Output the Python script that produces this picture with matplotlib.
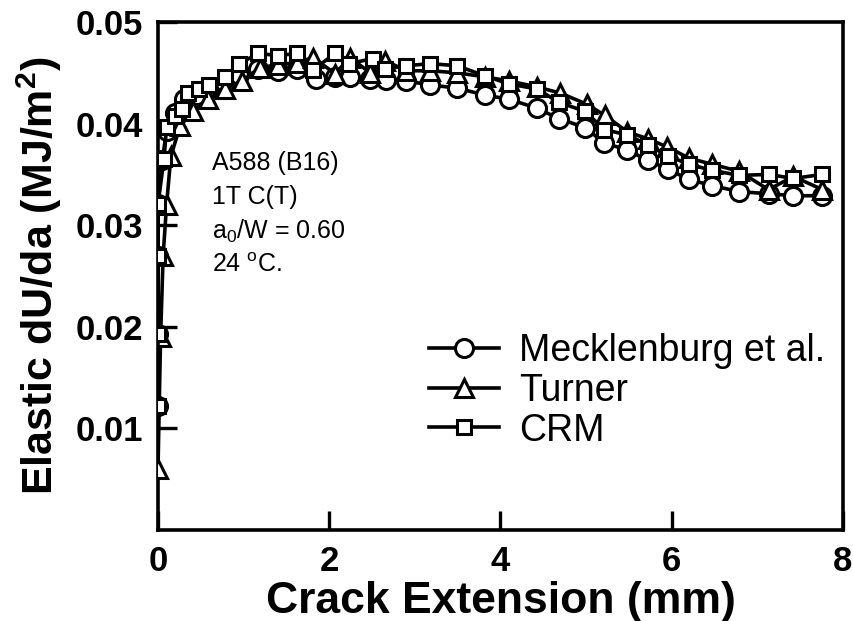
import matplotlib
matplotlib.use("Agg")
import matplotlib.pyplot as plt

plt.rcParams['font.family'] = ['Liberation Sans', 'DejaVu Sans']
plt.rcParams['mathtext.fontset'] = 'custom'
plt.rcParams['mathtext.rm'] = 'Liberation Sans'
plt.rcParams['mathtext.it'] = 'Liberation Sans:italic'
plt.rcParams['mathtext.bf'] = 'Liberation Sans:bold'

# ---- data ----
meck_x = [0, 0, 0, 0, 0.05, 0.10, 0.20, 0.30, 0.45, 0.60, 0.78, 0.95, 1.17, 1.40, 1.62,
          1.85, 2.07, 2.24, 2.48, 2.66, 2.90, 3.18, 3.49, 3.82, 4.10, 4.43, 4.68, 4.99,
          5.21, 5.48, 5.72, 5.96, 6.20, 6.47, 6.79, 7.13, 7.42, 7.76]
meck_y = [0.0122, 0.0193, 0.0270, 0.0321, 0.0364, 0.0393, 0.0410, 0.0424, 0.0428, 0.0434,
          0.0440, 0.0448, 0.0454, 0.0452, 0.0454, 0.0444, 0.0446, 0.0446, 0.0444, 0.0443,
          0.0442, 0.0438, 0.0435, 0.0428, 0.0424, 0.0415, 0.0405, 0.0396, 0.0381, 0.0374,
          0.0364, 0.0355, 0.0345, 0.0339, 0.0333, 0.0331, 0.0329, 0.0329]

turner_x = [0, 0.03, 0.06, 0.10, 0.15, 0.26, 0.41, 0.58, 0.78, 0.98, 1.19, 1.40, 1.62,
            1.81, 2.07, 2.24, 2.48, 2.65, 2.90, 3.18, 3.49, 3.82, 4.10, 4.43, 4.70, 5.01,
            5.22, 5.48, 5.72, 5.95, 6.20, 6.47, 6.79, 7.13, 7.42, 7.76]
turner_y = [0.0060, 0.0190, 0.0270, 0.0320, 0.0368, 0.0398, 0.0412, 0.0424, 0.0434, 0.0442,
            0.0455, 0.0458, 0.0460, 0.0465, 0.0449, 0.0465, 0.0450, 0.0462, 0.0452, 0.0452,
            0.0450, 0.0446, 0.0442, 0.0436, 0.0430, 0.0419, 0.0408, 0.0392, 0.0385, 0.0377,
            0.0366, 0.0360, 0.0353, 0.0335, 0.0348, 0.0335]

crm_x = [0, 0, 0, 0, 0.07, 0.10, 0.20, 0.28, 0.35, 0.48, 0.60, 0.78, 0.95, 1.17, 1.40,
         1.62, 1.81, 2.07, 2.23, 2.51, 2.65, 2.90, 3.18, 3.49, 3.82, 4.10, 4.43, 4.68,
         4.99, 5.21, 5.48, 5.72, 5.96, 6.20, 6.47, 6.79, 7.13, 7.42, 7.76]
crm_y = [0.0122, 0.0193, 0.0270, 0.0321, 0.0365, 0.0397, 0.0407, 0.0414, 0.0430, 0.0434,
         0.0438, 0.0446, 0.0459, 0.0469, 0.0467, 0.0469, 0.0453, 0.0469, 0.0459, 0.0464,
         0.0454, 0.0457, 0.0459, 0.0457, 0.0447, 0.0439, 0.0434, 0.0421, 0.0412, 0.0394,
         0.0389, 0.0379, 0.0368, 0.0360, 0.0354, 0.0349, 0.0350, 0.0346, 0.0350]

series_names = ["Mecklenburg et al.", "Turner", "CRM"]
x_ticks = [0, 2, 4, 6, 8]
y_ticks = [0.01, 0.02, 0.03, 0.04, 0.05]
y_tick_labels = ["0.01", "0.02", "0.03", "0.04", "0.05"]
annotation_lines = ["A588 (B16)", "1T C(T)", "a$_0$/W = 0.60", "24 $^{\\rm o}$C."]

# ---- figure ----
fig = plt.figure(figsize=(8.54, 6.21), dpi=100)
ax = fig.add_axes([158/854, 1 - 530/621, (843-158)/854, (530-22)/621])

lw = 2.6
mew = 2.2
ax.plot(meck_x, meck_y, '-', color='black', lw=lw, marker='o', ms=13,
        mfc='white', mec='black', mew=mew, label=series_names[0], zorder=3)
ax.plot(turner_x, turner_y, '-', color='black', lw=lw, marker='^', ms=12.5,
        mfc='white', mec='black', mew=mew, label=series_names[1], zorder=4)
ax.plot(crm_x, crm_y, '-', color='black', lw=lw, marker='s', ms=10.5,
        mfc='white', mec='black', mew=mew, label=series_names[2], zorder=5)

ax.set_xlim(0, 8)
ax.set_ylim(0, 0.05)
ax.set_xticks(x_ticks)
ax.set_yticks(y_ticks)
ax.set_yticklabels(y_tick_labels)
ax.tick_params(direction='in', length=14, width=2.4, top=False, right=False,
               labelsize=25, pad=11)
for lab in ax.get_xticklabels() + ax.get_yticklabels():
    lab.set_fontweight('bold')
for sp in ax.spines.values():
    sp.set_linewidth(2.6)

ax.set_xlabel("Crack Extension (mm)", fontsize=32, fontweight='bold', labelpad=2)
ax.set_ylabel("Elastic dU/da (MJ/m$^\\mathbf{2}$)", fontsize=31, fontweight='bold', labelpad=8)

for i, t in enumerate(annotation_lines):
    ax.text(0.63, 0.0361 - i * 0.00335, t, fontsize=18, va='center', ha='left')

leg = ax.legend(loc='center left', bbox_to_anchor=(0.374, 0.274), frameon=False,
                fontsize=27, handlelength=1.85, handletextpad=0.55, labelspacing=0.1,
                borderaxespad=0)

fig.savefig("out.png", dpi=100)
